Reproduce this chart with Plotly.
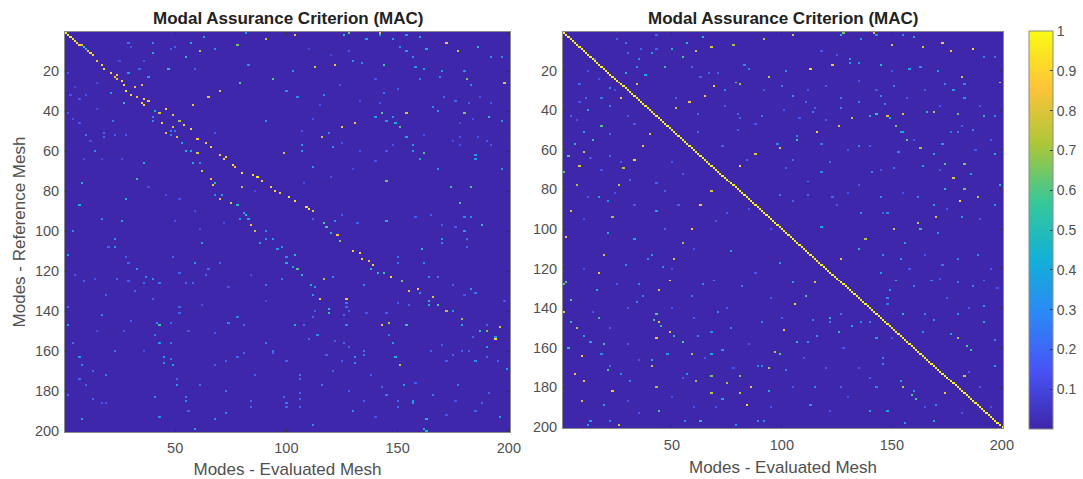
import numpy as np
import plotly.graph_objects as go

x_ticks = [50, 100, 150, 200]
y_ticks = [20, 40, 60, 80, 100, 120, 140, 160, 180, 200]
cbar_ticks = [0.1, 0.2, 0.3, 0.4, 0.5, 0.6, 0.7, 0.8, 0.9, 1]
cbar_labels = ["0.1", "0.2", "0.3", "0.4", "0.5", "0.6", "0.7", "0.8", "0.9", "1"]
title_text = "Modal Assurance Criterion (MAC)"
x_title = "Modes - Evaluated Mesh"
y_title = "Modes - Reference Mesh"
background_value = 0.004

# Parula
colour_stops = [[0.0, "#3E26A8"], [0.143, "#4752F4"], [0.286, "#2D87F7"], [0.429, "#12B1D6"],
                [0.571, "#37C897"], [0.714, "#ABC739"], [0.857, "#FEC338"], [1.0, "#F9FB14"]]

# (evaluated mode, reference mode, MAC)
left_ridge = [
    (1,1,.95),(2,2,.95),(3,3,.95),(4,4,.95),(5,5,.95),(6,6,.9),(7,7,.9),(8,7,.8),(9,8,.55),(10,9,.5),(11,10,.85),(12,11,.9),(13,12,.9),
    (15,15,.85),(17,17,.9),(18,19,.95),(21,21,.9),(24,22,.85),(23,23,.85),(24,24,.85),(26,25,.9),(27,27,.9),(32,28,.85),(35,27,.8),
    (28,30,.95),(30,32,.9),(33,33,.85),(36,34,.9),(38,35,.85),(35,36,.9),(36,37,.9),(46,39,.9),(41,40,.45),(43,41,.8),(49,42,.85),
    (52,45,.7),(44,46,.9),(54,47,.9),(49,48,.8),(57,49,.9),(46,51,.8),(51,53,.8),(60,54,.85),(64,56,.85),(66,58,.9),(60,61,.8),
    (70,62,.85),(73,63,.9),(72,64,.9),(76,67,.95),(77,68,.85),(80,71,.95),(62,70,.8),(85,72,.9),(87,73,.95),(89,75,.9),(93,78,.9),
    (95,80,.9),(97,81,.85),(66,74,.85),(67,77,.85),(80,78,.75),(70,84,.8),(75,86,.8),(82,92,.5),(83,94,.45),(84,97,.85),(86,100,.75),
    (101,83,.95),(104,85,.95),(109,88,.9),(110,89,.95),(112,90,.85),(117,96,.6),(118,98,.6),(120,101,.5),(123,102,.85),(124,105,.65),
    (130,110,.9),(133,111,.9),(134,114,.9),(137,115,.85),(139,117,.9),(138,119,.5),(141,121,.5),(144,121,.55),(147,123,.95),(152,125,.65),
    (155,130,.85),(159,129,.85),(160,131,.35),(166,133,.8),(164,135,.5),(164,137,.45),(168,137,.6),(172,140,.75),(175,140,.4),(179,144,.7),
    (179,147,.45),(187,150,.5),(190,150,.65),(196,148,.8),(194,154,.9),(190,158,.4),(194,153,.35),
    (105,119,.6),(107,122,.5),(111,127,.45),(113,128,.35),(112,132,.35),(115,134,.85),(127,134,.85),(117,124,.7),(119,139,.5),(119,141,.55),
]
left_bright = [
    (29,6,.25),(40,6,.3),(57,6,.45),(63,3,.45),(61,10,.75),(68,9,.3),(55,13,.5),(40,11,.45),(78,7,.65),(91,4,.8),(82,1,.4),(83,17,.3),
    (47,19,.5),(29,21,.4),(94,24,.6),(79,26,.6),(38,23,.35),(70,30,.8),(65,33,.8),(58,37,.85),(21,31,.35),(27,36,.5),(14,60,.3),(22,45,.25),
    (91,45,.35),(40,43,.3),(40,45,.3),(48,50,.3),(48,52,.3),(50,50,.25),(53,56,.4),(55,60,.45),(57,60,.45),(36,66,.45),(58,66,.45),(61,66,.3),
    (62,70,.4),(33,74,.55),(8,76,.45),(28,84,.45),(7,87,.45),(68,76,.5),(71,82,.4),(68,82,.3),(78,87,.5),(99,61,.8),(81,91,.4),(79,94,.35),
    (26,95,.4),(17,94,.3),(4,100,.3),(91,100,.3),
    (104,2,.85),(126,2,.5),(128,1,.65),(142,1,.8),(172,6,.85),(177,10,.8),(186,8,.5),(163,9,.45),(144,17,.55),(122,17,.85),(113,18,.8),
    (94,24,.6),(181,24,.65),(198,26,.8),(154,41,.8),(143,41,.6),(149,46,.45),(151,48,.6),(131,46,.85),(125,48,.85),(116,53,.8),(99,61,.8),
    (162,61,.6),(191,43,.5),(180,41,.65),(174,78,.55),(183,78,.6),(178,86,.6),(145,95,.45),(188,97,.5),(145,75,.65),
    (130,15,.35),(103,20,.35),(158,18,.35),(162,19,.4),(170,20,.4),(100,30,.3),(105,33,.3),(112,68,.35),(107,57,.35),(107,60,.35),(121,58,.35),
    (119,51,.3),(140,43,.35),(145,45,.35),(148,43,.35),(154,53,.4),(157,57,.35),(157,60,.35),(185,62,.35),(185,64,.35),(168,69,.35),(197,69,.35),
    (168,40,.35),(166,38,.3),(192,13,.35),(197,13,.3),(151,8,.35),(154,10,.35),(157,13,.3),(169,23,.3),(180,20,.3),(183,27,.3),(160,24,.25),
    (144,31,.25),(117,32,.3),(134,16,.3),(136,4,.4),(148,4,.35),(154,2,.35),(160,3,.45),(142,2,.4),(197,45,.35),(160,64,.4),(180,93,.3),(183,93,.3),
    (180,100,.35),(122,95,.35),
    (23,104,.35),(23,108,.4),(2,112,.4),(62,106,.4),(59,116,.4),(33,119,.35),(37,123,.3),(40,124,.3),(43,126,.25),(17,142,.3),(2,147,.45),(43,147,.55),
    (42,146,.3),(41,152,.25),(43,156,.35),(48,156,.25),(4,156,.25),(7,163,.35),(8,167,.3),(45,163,.4),(45,166,.35),(49,167,.4),(48,164,.25),(51,177,.35),
    (51,174,.2),(41,183,.3),(55,185,.3),(55,183,.25),(43,193,.3),(8,194,.4),(68,194,.3),(59,199,.4),(73,191,.3),(74,146,.3),(81,147,.2),(78,143,.25),
    (52,138,.2),(52,141,.2),(91,127,.25),(91,156,.25),(94,160,.25),(94,104,.35),(91,104,.35),(88,106,.4),(96,109,.35),(98,108,.35),(100,113,.3),(100,116,.45),
    (98,124,.25),(104,112,.5),(100,116,.4),(103,118,.4),(104,147,.45),(127,147,.3),(143,147,.85),(146,146,.75),(154,147,.55),(148,156,.4),(149,163,.45),
    (151,167,.75),(131,163,.35),(131,166,.3),(114,152,.3),(153,177,.4),(157,185,.4),(157,186,.35),(162,199,.45),(163,200,.5),(163,194,.45),(196,193,.4),
    (170,104,.4),(170,106,.3),(161,109,.5),(162,116,.35),(135,127,.3),(150,113,.25),(150,116,.25),(135,160,.25),(135,162,.25),
]
left_faint = [
    (2,21,.15),(3,32,.15),(7,34,.15),(10,32,.15),(10,52,.25),(18,51,.2),(18,53,.2),(23,52,.18),(28,52,.18),(2,41,.15),(7,46,.15),(4,44,.15),(34,19,.2),(36,15,.18),
    (30,8,.15),(50,8,.2),(48,9,.18),(59,19,.18),(68,51,.15),(25,15,.12),(15,26,.12),(5,28,.12),(15,39,.12),(12,55,.14),(9,64,.12),(17,64,.12),(26,64,.14),(38,78,.12),
    (46,82,.14),(52,84,.14),(59,90,.14),(50,95,.14),(61,99,.12),(72,96,.12),(86,80,.12),(108,76,.12),(120,73,.13),(130,69,.12),(140,65,.14),(148,57,.14),(175,55,.14),
    (190,55,.15),(178,57,.14),(184,44,.14),(178,46,.12),(124,27,.14),(115,37,.14),(133,35,.14),(142,36,.15),(150,29,.18),(140,24,.14),(128,10,.15),(110,9,.12),
    (120,12,.12),(171,33,.2),(176,35,.2),(182,36,.18),(187,33,.15),(192,36,.15),(112,44,.15),(107,50,.15),(125,56,.15),(133,60,.15),(145,60,.15),(162,52,.15),(178,53,.15),
    (186,53,.15),(192,57,.15),(112,94,.2),(125,92,.18),(132,96,.18),(158,93,.18),(165,92,.18),(170,97,.18),(176,98,.15),
    (20,108,.2),(28,113,.2),(29,116,.2),(52,121,.2),(49,113,.2),(55,126,.22),(58,126,.22),(65,119,.22),(64,122,.2),(70,116,.2),(23,160,.25),(13,170,.2),(19,172,.25),(7,174,.2),
    (10,177,.22),(2,182,.2),(13,184,.2),(17,186,.15),(19,186,.15),(61,177,.25),(73,180,.25),(86,172,.2),(84,185,.2),(84,188,.2),(100,186,.25),(100,188,.2),(36,126,.2),(32,130,.2),
    (19,132,.2),(40,134,.18),(2,138,.2),(30,145,.18),(48,146,.2),(68,151,.15),(81,161,.2),(78,163,.2),(73,165,.2),(68,167,.18),(56,190,.2),(94,161,.2),(74,128,.14),(84,122,.14),
    (91,135,.12),(62,137,.14),(56,150,.15),(36,160,.12),(27,150,.14),(15,150,.12),(9,125,.18),(5,122,.15),(14,124,.15),(24,124,.2),(29,125,.18),
    (94,160,.2),(100,165,.2),(106,172,.25),(106,174,.2),(116,177,.25),(112,197,.3),(181,104,.25),(181,108,.2),(185,165,.3),(179,160,.2),(184,153,.2),(166,182,.25),(177,177,.25),
    (199,169,.4),(146,152,.25),(145,182,.25),(150,185,.2),(150,188,.2),(130,190,.3),(164,123,.3),(168,123,.25),(121,123,.3),(183,129,.35),(185,131,.25),(127,136,.25),(127,138,.2),
    (94,160,.2),(99,183,.2),(106,181,.2),(106,184,.2),(100,186,.2),(106,188,.2),(185,190,.2),(188,186,.2),(191,181,.2),(118,162,.2),(121,170,.18),(125,165,.18),(138,172,.18),(143,178,.2),
    (128,180,.18),(135,185,.18),(140,193,.15),(172,192,.15),(176,185,.15),(158,176,.18),(165,160,.2),(170,157,.18),(172,165,.18),(110,154,.2),(122,155,.18),(126,156,.2),(128,158,.18),
    (108,147,.2),(112,143,.2),(113,140,.18),(126,142,.2),(128,140,.18),(136,141,.15),(145,141,.18),(150,136,.18),(155,137,.2),(175,127,.18),(180,132,.15),(190,147,.2),(198,135,.15),
    (175,162,.2),(182,160,.18),(190,163,.2),(195,165,.2),
]
left_marks = left_ridge + left_bright + left_faint

right_diagonal = [
    .99,.98,.99,.97,.99,.98,.99,.97,.98,.99,.98,.97,.99,.98,.99,.97,.98,.99,.97,.98,
    .99,.98,.97,.99,.98,.99,.97,.98,.99,.98,.97,.99,.98,.97,.99,.98,.99,.97,.98,.99,
    .98,.97,.99,.98,.99,.97,.98,.99,.98,.97,.99,.98,.99,.97,.98,.99,.97,.98,.99,.98,
    .97,.99,.98,.99,.97,.98,.99,.98,.97,.99,.98,.97,.99,.98,.99,.97,.98,.99,.98,.97,
    .99,.98,.99,.97,.98,.99,.97,.98,.99,.98,.97,.99,.98,.99,.97,.98,.99,.98,.97,.99,
    .98,.97,.99,.98,.99,.97,.98,.99,.98,.97,.99,.98,.99,.97,.98,.99,.97,.98,.99,.98,
    .97,.99,.98,.99,.97,.98,.99,.98,.97,.99,.98,.97,.99,.98,.99,.97,.98,.99,.98,.97,
    .99,.98,.99,.97,.98,.99,.97,.98,.99,.98,.97,.99,.98,.99,.97,.98,.99,.98,.97,.99,
    .98,.97,.99,.98,.99,.97,.98,.99,.98,.97,.99,.98,.99,.97,.98,.99,.97,.98,.99,.98,
    .97,.99,.98,.99,.97,.98,.99,.98,.97,.99,.98,.97,.99,.98,.99,.97,.98,.99,.98,.97,
]
right_bright = [
    (105,2,.8),(92,4,.75),(78,7,.7),(68,8,.8),(61,10,.8),(64,3,.5),(57,6,.5),(50,9,.45),(55,13,.6),(41,11,.4),(47,18,.55),(29,21,.45),(38,22,.4),(34,18,.3),(35,14,.3),
    (34,27,.8),(69,28,.9),(81,27,.7),(79,26,.65),(65,33,.85),(58,36,.85),(52,39,.8),(27,34,.85),(12,40,.4),(18,48,.6),(10,51,.35),(14,55,.55),(6,57,.5),(3,63,.6),(10,61,.8),
    (8,68,.8),(1,71,.6),(7,78,.7),(4,91,.8),(23,94,.7),(43,91,.4),(17,84,.4),(21,86,.4),(21,102,.45),(2,104,.85),(26,78,.75),(28,69,.75),(33,65,.9),(37,58,.85),(40,52,.8),
    (68,81,.8),(63,88,.85),(59,100,.85),(81,68,.9),(88,62,.8),(99,59,.8),(94,23,.75),(113,19,.9),(123,17,.85),(126,48,.8),(116,51,.9),(107,55,.55),(107,53,.3),(118,99,.4),
    (112,76,.4),(105,33,.35),(102,20,.35),(100,28,.3),(83,17,.3),(85,19,.3),(22,38,.3),(22,29,.35),(18,34,.25),
    (127,2,.5),(128,1,.65),(142,1,.8),(143,2,.35),(150,7,.8),(164,8,.8),(173,6,.85),(177,10,.85),(187,9,.9),(160,3,.45),(136,4,.4),(155,2,.3),(145,17,.5),(131,14,.35),(131,16,.35),
    (135,16,.4),(158,19,.4),(163,18,.35),(171,20,.4),(182,23,.8),(199,26,.75),(178,30,.35),(151,28,.3),(183,34,.35),(147,37,.3),(145,33,.3),(135,36,.3),(127,39,.3),(155,42,.8),
    (143,42,.55),(140,43,.45),(148,43,.8),(149,44,.45),(132,44,.75),(166,41,.5),(169,41,.75),(180,42,.65),(192,43,.5),(197,43,.35),(152,48,.65),(154,51,.4),(155,51,.4),(157,55,.6),
    (173,57,.4),(163,59,.7),(169,62,.4),(197,62,.45),(174,67,.6),(183,67,.65),(178,74,.8),(186,72,.4),(174,80,.5),(183,80,.65),(181,86,.9),(189,84,.75),(199,78,.45),(170,94,.8),
    (162,97,.75),(163,100,.55),(151,100,.8),(182,94,.4),(169,88,.4),(136,92,.35),(145,84,.35),(162,84,.3),(197,88,.35),(171,102,.35),(164,68,.4),
    (19,113,.8),(55,107,.7),(51,115,.8),(17,122,.85),(49,126,.9),(44,131,.8),(1,128,.6),(2,127,.6),(16,131,.45),(4,136,.6),(1,142,.85),(4,147,.5),(7,150,.75),(17,145,.55),(43,143,.6),
    (42,146,.55),(44,147,.8),(45,149,.5),(49,152,.8),(51,154,.5),(43,155,.85),(55,157,.6),(59,163,.7),(9,164,.85),(19,158,.6),(3,160,.5),(10,154,.4),(13,157,.4),(41,166,.45),(41,169,.75),
    (21,171,.6),(6,173,.85),(10,177,.85),(23,182,.85),(43,180,.7),(9,187,.8),(19,189,.4),(44,192,.6),(26,199,.8),(13,197,.4),(63,197,.5),(84,189,.9),(81,183,.75),(86,180,.85),(68,183,.75),
    (68,174,.65),(81,174,.65),(75,178,.7),(61,177,.7),(94,182,.45),(94,170,.75),(97,162,.75),(99,163,.6),(101,151,.85),(107,157,.5),(106,138,.9),(111,134,.6),(105,127,.4),(99,117,.4),(115,127,.8),
    (77,111,.4),(68,163,.4),(71,142,.35),(116,154,.35),(113,189,.35),(73,186,.4),(57,173,.35),(48,163,.35),(33,105,.4),(41,113,.4),(39,115,.35),
    (138,105,.75),(135,110,.5),(127,115,.85),(152,126,.5),(145,122,.4),(122,145,.5),(126,152,.5),(132,149,.4),(143,155,.4),(155,143,.5),(169,146,.4),(177,153,.4),(180,155,.7),(184,159,.6),
    (186,161,.55),(192,147,.45),(180,143,.35),(183,174,.8),(174,183,.85),(159,184,.6),(161,186,.6),(155,180,.75),(154,177,.4),(160,182,.35),(140,192,.4),(148,192,.4),(169,197,.45),(156,198,.35),
    (197,169,.4),(197,156,.3),(192,139,.35),(146,165,.3),(146,168,.3),(164,152,.35),(149,131,.35),(154,115,.35),(146,113,.3),(156,107,.4),(165,143,.3),(112,157,.35),
]
right_faint = [
    (29,6,.25),(30,11,.2),(36,9,.2),(25,4,.2),(43,2,.2),(15,14,.2),(8,27,.2),(11,34,.2),(4,43,.2),(22,52,.2),(27,66,.2),(31,75,.2),(22,63,.2),(43,77,.2),(47,81,.2),(53,88,.2),(47,100,.2),
    (62,51,.2),(59,18,.2),(71,21,.2),(80,42,.2),(81,44,.2),(91,43,.25),(98,57,.3),(105,65,.2),(102,69,.2),(99,83,.25),(105,86,.2),(112,83,.2),(123,84,.2),(115,39,.2),(120,45,.2),(111,36,.2),
    (63,23,.2),(74,30,.3),(62,42,.2),(73,58,.2),(84,65,.2),(118,71,.2),(122,66,.2),(52,34,.2),(43,9,.2),(67,21,.2),
    (118,71,.3),(141,71,.3),(151,69,.25),(153,61,.3),(127,34,.3),(114,41,.3),(118,57,.25),(135,58,.3),(177,51,.25),(180,51,.25),(187,50,.3),(174,27,.3),(183,27,.3),(192,13,.3),(197,13,.25),(146,92,.2),(148,92,.3),
    (29,118,.3),(46,119,.3),(64,128,.3),(69,126,.3),(35,128,.3),(37,134,.3),(34,137,.3),(59,134,.25),(68,152,.3),(77,150,.3),(82,129,.3),(91,147,.3),(62,154,.3),(73,161,.35),(27,173,.3),(31,177,.3),
    (22,197,.3),(56,197,.3),(89,197,.35),(92,197,.3),(79,199,.3),(12,199,.35),(18,163,.3),(22,169,.2),(89,169,.3),(91,169,.3),(102,171,.3),(115,180,.3),
    (127,180,.2),(143,180,.3),(170,189,.3),(160,129,.3),(168,126,.3),(187,129,.3),(192,126,.25),(180,115,.3),(189,113,.3),(180,127,.25),(173,118,.25),(148,135,.3),(148,138,.25),(136,147,.3),(140,147,.3),
    (122,147,.3),(114,146,.3),(127,143,.25),
    (12,20,.15),(17,24,.15),(24,30,.15),(30,30,.15),(8,36,.15),(7,45,.15),(30,43,.15),(37,37,.14),(33,47,.15),(13,64,.15),(18,70,.15),(24,82,.14),(33,88,.15),(12,84,.15),(10,95,.15),(50,66,.15),(55,72,.15),
    (74,38,.15),(80,50,.15),(88,47,.15),(92,30,.15),(101,40,.15),(108,44,.15),(112,30,.15),(120,28,.15),(125,12,.15),(118,10,.15),(135,25,.15),(143,30,.15),(150,20,.15),(157,34,.15),(165,30,.15),(172,38,.15),
    (182,48,.15),(190,38,.15),(130,60,.15),(140,58,.15),(160,55,.15),(172,70,.15),(188,60,.15),(195,55,.15),(135,78,.15),(145,70,.15),(125,88,.15),(130,82,.15),(155,82,.15),(175,90,.15),(190,95,.15),(75,92,.15),
    (85,90,.15),(95,100,.15),(70,96,.15),(60,110,.15),(50,120,.15),(30,140,.15),(25,128,.15),(10,120,.15),(14,142,.15),(22,150,.15),(30,158,.15),(35,166,.15),(50,140,.15),(60,145,.15),(75,140,.15),(88,122,.15),
    (95,135,.15),(100,145,.15),(85,158,.15),(78,170,.15),(65,165,.15),(55,175,.15),(30,187,.15),(35,193,.15),(50,185,.15),(60,190,.15),(70,190,.15),(95,190,.15),(105,180,.15),(110,165,.15),(120,170,.15),
    (128,160,.15),(135,170,.15),(130,185,.15),(122,192,.15),(140,175,.15),(150,155,.15),(165,165,.15),(175,175,.15),(185,172,.15),(190,180,.15),(165,190,.15),(182,193,.15),(195,190,.15),(175,135,.15),(185,140,.15),
    (158,120,.15),(165,113,.15),(172,125,.15),(195,120,.15),(198,130,.15),
]
right_marks = right_bright + right_faint


def build_matrix(marks):
    z = np.full((200, 200), background_value)
    for col, row, value in marks:
        z[row - 1, col - 1] = max(z[row - 1, col - 1], value)
    return z


z_left = build_matrix(left_marks)
z_right = build_matrix(right_marks)
for i, v in enumerate(right_diagonal):
    z_right[i, i] = v

W, H = 1083, 479
fig = go.Figure()
fig.add_trace(go.Heatmap(z=z_left, x0=1, dx=1, y0=1, dy=1, coloraxis="coloraxis", xaxis="x", yaxis="y"))
fig.add_trace(go.Heatmap(z=z_right, x0=1, dx=1, y0=1, dy=1, coloraxis="coloraxis", xaxis="x2", yaxis="y2"))

tick_font = dict(family="Liberation Sans, Arial, sans-serif", size=14.5, color="#505050")
axis_common = dict(ticks="inside", ticklen=3, tickwidth=1, tickcolor="#333333", showgrid=False, zeroline=False,
                   showline=True, linecolor="#8a8a8a", linewidth=1, mirror="ticks", tickfont=tick_font)
title_font = dict(family="Liberation Sans, Arial, sans-serif", size=17, color="#505050")
head_font = dict(family="Liberation Sans, Arial, sans-serif", size=17, color="#222222", weight="bold")

fig.update_layout(
    width=W, height=H, autosize=False, margin=dict(l=0, r=0, t=0, b=0, autoexpand=False),
    paper_bgcolor="white", plot_bgcolor="#3E26A8", showlegend=False,
    xaxis=dict(domain=[65 / W, 510 / W], range=[0.5, 200.5], tickvals=x_ticks, anchor="y", ticklabelstandoff=3,
               title=dict(text=x_title, font=title_font, standoff=12), **axis_common),
    yaxis=dict(domain=[1 - 432 / H, 1 - 32 / H], range=[200.5, 0.5], tickvals=y_ticks, anchor="x", ticklabelstandoff=2,
               title=dict(text=y_title, font=title_font, standoff=4), **axis_common),
    xaxis2=dict(domain=[563 / W, 1003 / W], range=[0.5, 200.5], tickvals=x_ticks, anchor="y2", ticklabelstandoff=4,
                title=dict(text=x_title, font=title_font, standoff=8), **axis_common),
    yaxis2=dict(domain=[1 - 428 / H, 1 - 32 / H], range=[200.5, 0.5], tickvals=y_ticks, anchor="x2", ticklabelstandoff=2,
                **axis_common),
    coloraxis=dict(cmin=0, cmax=1, colorscale=colour_stops,
                   colorbar=dict(x=1029 / W, xanchor="left", xpad=0, y=1 - 31 / H, yanchor="top", ypad=0,
                                 thicknessmode="pixels", thickness=24, lenmode="pixels", len=398,
                                 tickvals=cbar_ticks, ticktext=cbar_labels, ticks="inside", ticklen=3,
                                 tickcolor="#333333", outlinecolor="#8a8a8a", outlinewidth=1, tickfont=dict(
                                     family="Liberation Sans, Arial, sans-serif", size=14, color="#505050"))),
    annotations=[
        dict(text=title_text, xref="paper", yref="paper", x=288 / W, y=1 - 18 / H, xanchor="center", yanchor="middle",
             showarrow=False, font=head_font),
        dict(text=title_text, xref="paper", yref="paper", x=783 / W, y=1 - 18 / H, xanchor="center", yanchor="middle",
             showarrow=False, font=head_font),
    ],
)

fig.write_html("out.html", config={"displayModeBar": False}, post_script="document.body.style.margin='0';")
